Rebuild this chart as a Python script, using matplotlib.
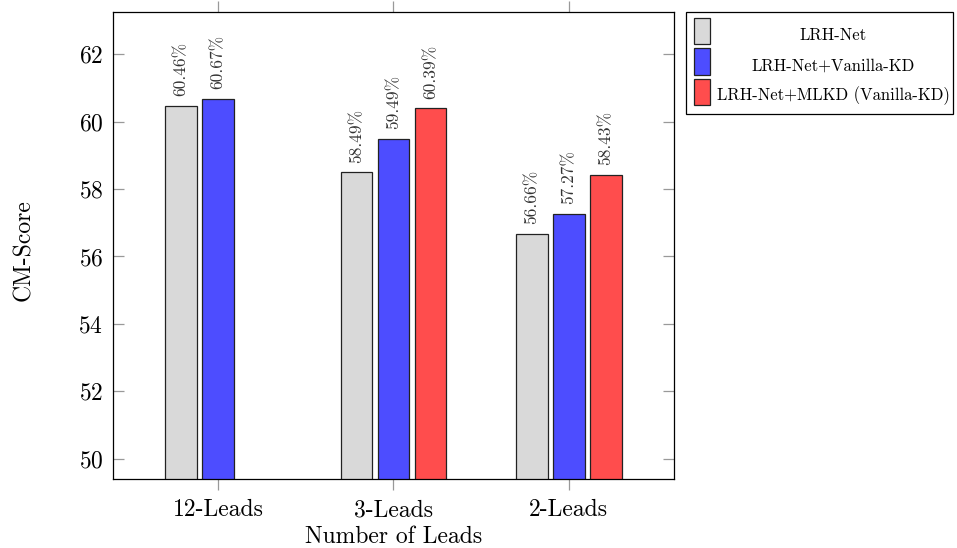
import numpy as np
import matplotlib
matplotlib.use("Agg")
from matplotlib import pyplot as plt
from matplotlib.patches import Rectangle

plt.rcParams['font.family'] = ['cmr10', 'DejaVu Serif']
plt.rcParams['axes.formatter.use_mathtext'] = True
plt.rcParams['mathtext.fontset'] = 'cm'

# data
leads = ['12-Leads', '3-Leads', '2-Leads']
series = ['LRH-Net', 'LRH-Net+Vanilla-KD', 'LRH-Net+MLKD (Vanilla-KD)']
lrh_net = [60.46, 58.49, 56.66]
vanilla_kd = [60.67, 59.49, 57.27]
mlkd = [None, 60.39, 58.43]
colors = ['#d9d9d9', '#4d4dff', '#ff4d4d']

W, H = 957, 548
fig = plt.figure(figsize=(W/100, H/100), dpi=100)
ax = fig.add_axes([113/W, 1-479/H, (674-113)/W, (479-12)/H])

x = np.arange(len(leads))
width = 0.182
offset = 0.211
for k, vals in enumerate([lrh_net, vanilla_kd, mlkd]):
    for i, v in enumerate(vals):
        if v is None:
            continue
        xi = x[i] + (k-1)*offset
        ax.bar(xi, v, width, color=colors[k], edgecolor='#222222', linewidth=0.9)
        ax.annotate('%.2f%%' % v, (xi, v), xytext=(0, 7), textcoords='offset points',
                    rotation=90, ha='center', va='bottom', fontsize=12.5, color='#333333')

ax.set_xlim(-0.6, 2.6)
ax.set_ylim(49.4, 63.25)
ax.set_yticks(np.arange(50, 63, 2))
ax.set_xticks(x)
ax.set_xticklabels(leads)
ax.tick_params(axis='y', direction='in', length=8, width=0.9, color='#999999',
               left=True, right=True, labelsize=17, pad=7)
ax.tick_params(axis='x', direction='out', length=8, width=0.9, color='#999999',
               top=True, bottom=True, labelsize=17, pad=6.5)
for s in ax.spines.values():
    s.set_linewidth(0.9)
ax.set_xlabel('Number of Leads', fontsize=17, labelpad=3)
ax.set_ylabel('CM-Score', fontsize=17)
ax.yaxis.set_label_coords(-0.138, 0.49)

# legend box drawn to the right of the axes
fig.patches.append(Rectangle((686/W, 1-114/H), (953-686)/W, (114-12)/H,
                             transform=fig.transFigure, fill=False,
                             edgecolor='black', linewidth=0.9))
rows = [(18, 44), (48, 75), (79, 105)]
for k, (y0, y1) in enumerate(rows):
    fig.patches.append(Rectangle((694/W, 1-y1/H), 16/W, (y1-y0)/H,
                                 transform=fig.transFigure, facecolor=colors[k],
                                 edgecolor='#222222', linewidth=0.9))
    fig.text(833/W, 1-((y0+y1)/2+4)/H, series[k], ha='center', va='center', fontsize=12)

fig.savefig('out.png', dpi=100)
